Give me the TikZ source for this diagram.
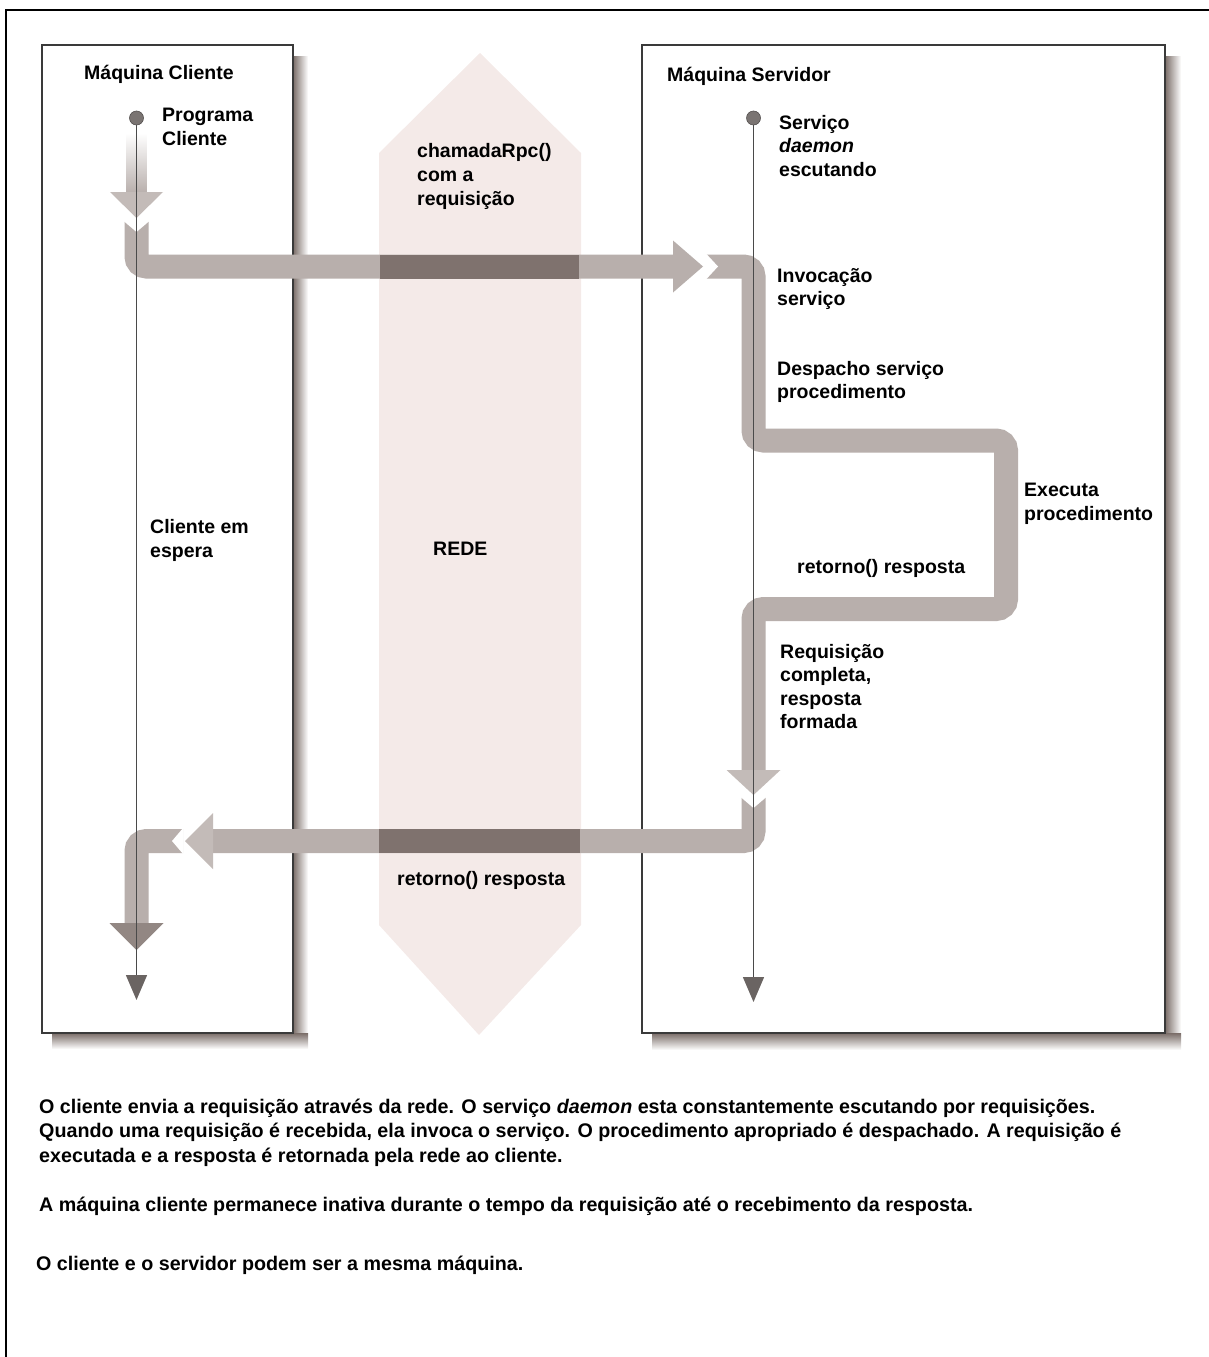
\documentclass[tikz,border=0pt]{standalone}
\usepackage{fontspec}
\setmainfont{Liberation Sans}
\usetikzlibrary{arrows.meta}

\definecolor{band}{HTML}{B8AFAC}
\definecolor{bandhead}{HTML}{C3BBB8}
\definecolor{banddark}{HTML}{7F726E}
\definecolor{endhead}{HTML}{928783}
\definecolor{net}{HTML}{F4EAE8}
\definecolor{shadow}{HTML}{7A6D68}
\definecolor{boxline}{HTML}{3A3A3A}
\definecolor{lifecol}{HTML}{4A4A4A}
\definecolor{dotcol}{HTML}{7A7472}
\definecolor{tipcol}{HTML}{6A6462}

\tikzset{
  lbl/.style={font=\fontsize{19.5}{23.5}\selectfont\bfseries, anchor=north west,
    inner sep=0pt, align=left, execute at begin node={\rule{0pt}{19pt}}},
  captxt/.style={lbl, font=\fontsize{19.7}{24.2}\selectfont\bfseries},
  machine/.style={draw=boxline, line width=2.2pt, fill=white},
  bandline/.style={draw=band, line width=24pt, rounded corners=10pt, line cap=butt},
  lifeline/.style={draw=lifecol, line width=1.4pt,
    -{Triangle[length=25pt,width=21pt,color=tipcol]}},
  lifedot/.style={circle, fill=dotcol, draw=dotcol!70!black, line width=0.6pt,
    minimum size=14pt, inner sep=0pt},
}

\begin{document}
\begin{tikzpicture}[x=1pt,y=-1pt]
\useasboundingbox (0,0) rectangle (1209,1357);

% page frame (left and top edges)
\draw[line width=2pt] (6,1357) -- (6,10) -- (1209,10);

% network band
\fill[net] (379,153) -- (480,53) -- (581,153) -- (581,925) -- (479,1035) -- (379,925) -- cycle;

% machine shadows
\shade[left color=shadow, right color=white] (293,56) rectangle (308,1048);
\shade[top color=shadow, bottom color=white] (52,1033) rectangle (308,1049);
\shade[left color=shadow, right color=white] (1165,56) rectangle (1181,1049);
\shade[top color=shadow, bottom color=white] (652,1033) rectangle (1181,1050);

% machines
\draw[machine] (42,45) rectangle (293,1033);
\draw[machine] (642,45) rectangle (1165,1033);

% request: client program starts the call
\shade[top color=white, bottom color=band] (126.5,133) rectangle (146.5,193);
\fill[bandhead] (110,192) -- (163,192) -- (136.5,218) -- cycle;
\draw[bandline] (136.5,221) -- (136.5,266.5) -- (674,266.5);
\fill[white] (123,220.5) -- (150,220.5) -- (136.5,232) -- cycle;
\fill[band] (673,240.5) -- (703,266.5) -- (673,292.5) -- cycle;
\fill[banddark] (380,254.5) rectangle (579,278.5);

% server side: invocation, dispatch, execution
\draw[bandline] (706,266.5) -- (753.5,266.5) -- (753.5,440.5) -- (1006,440.5)
  -- (1006,609) -- (753.5,609) -- (753.5,771);
\fill[white] (705.5,253) -- (705.5,280) -- (718,266.5) -- cycle;
\fill[bandhead] (726.5,770) -- (780.5,770) -- (753.5,795) -- cycle;

% reply back through the network
\draw[bandline] (753.5,797) -- (753.5,841) -- (212,841);
\fill[white] (740,796.5) -- (767,796.5) -- (753.5,808) -- cycle;
\fill[bandhead] (213,813) -- (213,869) -- (185,841) -- cycle;
\fill[banddark] (379,829) rectangle (580,853);

% client receives the reply
\draw[bandline] (183,841) -- (136.5,841) -- (136.5,924);
\fill[white] (183.5,827.5) -- (183.5,854.5) -- (172,841) -- cycle;
\fill[endhead] (109.5,923) -- (163.5,923) -- (136.5,950) -- cycle;

% life lines
\node[lifedot] (cdot) at (136.5,118) {};
\coordinate (cend) at (136.5,1000);
\draw[lifeline] (cdot.south) -- (cend);
\node[lifedot] (sdot) at (753.5,118) {};
\coordinate (send) at (753.5,1002);
\draw[lifeline] (sdot.south) -- (send);

% labels
\node[lbl] (mcl) at (84,60) {Máquina Cliente};
\node[lbl] (msv) at (667,62) {Máquina Servidor};
\node[lbl] (prog) at (162,108) {Programa\\Cliente};
\node[lbl] (serv) at (779,115) {Serviço\\\textit{daemon}\\escutando};
\node[lbl, font=\fontsize{19.5}{24}\selectfont\bfseries] (chamada) at (417,143) {chamadaRpc()\\com a\\requisição};
\node[lbl] (invoc) at (777,268) {Invocação\\serviço};
\node[lbl] (desp) at (777,361) {Despacho serviço\\procedimento};
\node[lbl] (exec) at (1024,483) {Executa\\procedimento};
\node[lbl] (ret1) at (797,554) {retorno() resposta};
\node[lbl] (reqc) at (780,644) {Requisição\\completa,\\resposta\\formada};
\node[lbl, font=\fontsize{19.5}{24}\selectfont\bfseries] (espera) at (150,519) {Cliente em\\espera};
\node[lbl] (rede) at (433,536) {REDE};
\node[lbl] (ret2) at (397,866) {retorno() resposta};

% caption
\node[captxt] (cap1) at (39,1099) {O cliente envia a requisição através da rede. O serviço \textit{daemon} esta constantemente escutando por requisições.\\Quando uma requisição é recebida, ela invoca o serviço. O procedimento apropriado é despachado. A requisição é\\executada e a resposta é retornada pela rede ao cliente.};
\node[captxt] (cap2) at (39,1192) {A máquina cliente permanece inativa durante o tempo da requisição até o recebimento da resposta.};
\node[captxt] (cap3) at (36,1251) {O cliente e o servidor podem ser a mesma máquina.};
\end{tikzpicture}
\end{document}
